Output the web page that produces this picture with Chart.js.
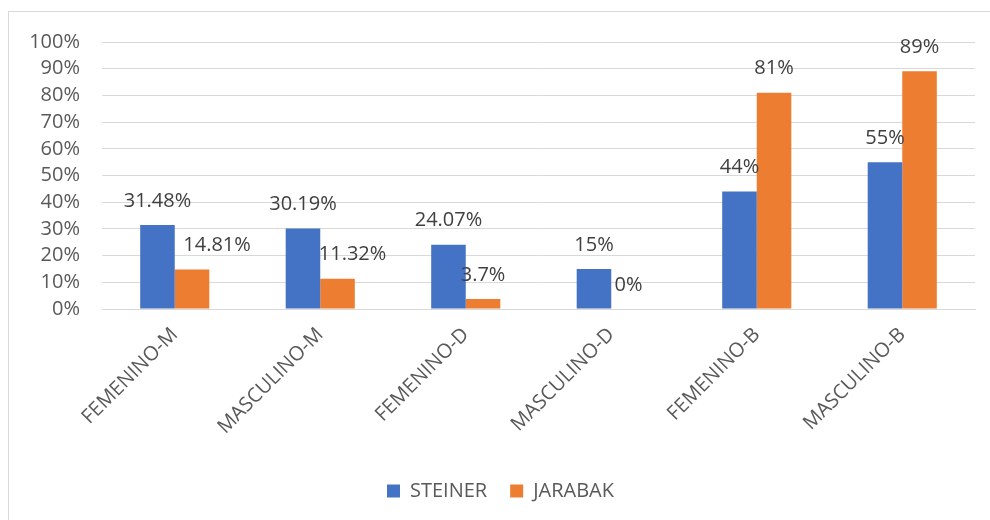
<!DOCTYPE html>
<html>
<head>
<meta charset="utf-8">
<script src="https://cdn.jsdelivr.net/npm/chart.js@4/dist/chart.umd.min.js"></script>
<style>
  html, body { margin:0; padding:0; background:#fff; overflow:hidden; }
  #frame { position:absolute; left:8px; top:11px; width:1006px; height:520px; border:1px solid #d9d9d9; box-sizing:border-box; }
  #wrap { position:absolute; left:0; top:-4px; width:1006px; height:513px; }
</style>
</head>
<body>
<div id="frame"><div id="wrap"><canvas id="chart"></canvas></div></div>
<script>
// ---- data ----
var categories = ['FEMENINO-M','MASCULINO-M','FEMENINO-D','MASCULINO-D','FEMENINO-B','MASCULINO-B'];
var steiner = [31.48, 30.19, 24.07, 15, 44, 55];
var jarabak = [14.81, 11.32, 3.7, 0, 81, 89];
var yTicks = [0,10,20,30,40,50,60,70,80,90,100];

var FONT = "'Open Sans', 'Noto Sans', sans-serif";

// draws the value labels above each bar (Excel "outside end")
var barLabels = {
  id: 'barLabels',
  afterDatasetsDraw: function(chart) {
    var ctx = chart.ctx;
    ctx.save();
    ctx.font = '20px ' + FONT;
    ctx.fillStyle = '#404040';
    ctx.textAlign = 'center';
    ctx.textBaseline = 'middle';
    chart.data.datasets.forEach(function(ds, di) {
      var meta = chart.getDatasetMeta(di);
      var shift = ds.labelShift || [];
      meta.data.forEach(function(bar, i) {
        ctx.fillText(ds.data[i] + '%', bar.x + (shift[i] || 0), bar.y - 24);
      });
    });
    ctx.restore();
  }
};

new Chart(document.getElementById('chart'), {
  type: 'bar',
  data: {
    labels: categories,
    datasets: [
      { label:'STEINER', data:steiner, backgroundColor:'#4472C4', barPercentage:1, categoryPercentage:0.475 },
      { label:'JARABAK', data:jarabak, backgroundColor:'#ED7D31', barPercentage:1, categoryPercentage:0.475, labelShift:[25,15,0,0,0,0] }
    ]
  },
  options: {
    responsive:true, maintainAspectRatio:false, animation:false,
    layout: { padding: { top:10, right:40, bottom:10, left:17 } },
    plugins: {
      tooltip: { enabled:false },
      legend: {
        position:'bottom',
        labels: { color:'#595959', font:{ family:FONT, size:20 }, boxWidth:13, boxHeight:13, padding:23 }
      }
    },
    scales: {
      x: {
        grid: { display:false, drawTicks:false },
        border: { color:'#d9d9d9', width:1 },
        ticks: { color:'#595959', font:{ family:FONT, size:20 }, maxRotation:45, minRotation:45, padding:14, autoSkip:false },
        afterFit: function(s) { s.height = 149; }
      },
      y: {
        min:0, max:100,
        afterBuildTicks: function(s) { s.ticks = yTicks.map(function(v){ return { value:v }; }); },
        grid: { color:'#d9d9d9', lineWidth:1, drawTicks:false },
        border: { display:false },
        ticks: { color:'#595959', font:{ family:FONT, size:20 }, padding:22, autoSkip:false, callback:function(v){ return v + '%'; } },
        afterFit: function(s) { s.width = 76; }
      }
    }
  },
  plugins: [barLabels]
});
</script>
</body>
</html>
